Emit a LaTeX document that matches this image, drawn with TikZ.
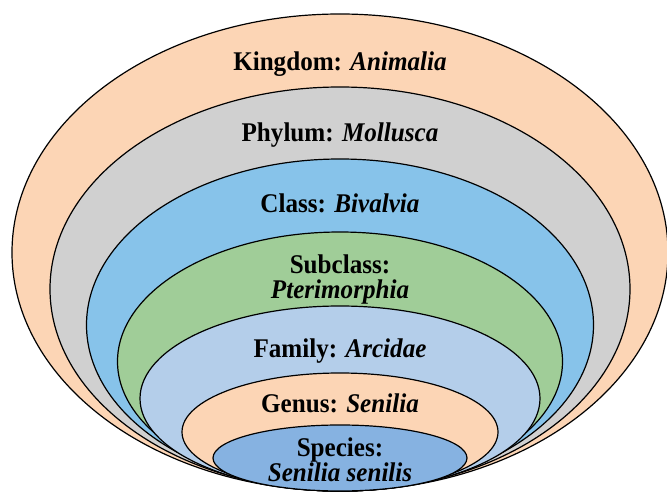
\documentclass[tikz,border=0pt]{standalone}
\usepackage{fontspec}
\setmainfont{Liberation Serif}
\usepackage{graphicx}
\usepackage{tikz}
\usepackage{xcolor}
\definecolor{TaxPeach}{HTML}{FCD5B5}
\definecolor{TaxGrey}{HTML}{D0D0D0}
\definecolor{TaxBlue}{HTML}{87C3EA}
\definecolor{TaxGreen}{HTML}{A0CD98}
\definecolor{TaxPale}{HTML}{B4CEEA}
\definecolor{TaxDeep}{HTML}{86B2E1}
\newcommand{\taxtext}[1]{\scalebox{0.93}[1]{#1}}

\begin{document}
\begin{tikzpicture}[
    x=1pt,y=-1pt,
    rank/.style={draw=black,line width=1.2pt},
    label/.style={font=\fontsize{27}{25}\selectfont\bfseries,align=center,inner sep=0pt}
  ]
    \useasboundingbox (0,0) rectangle (667,494);

    % nested ranks, all touching at the bottom
    \filldraw[rank,fill=TaxPeach] (340,252.5) ellipse [x radius=328pt,y radius=238.5pt];
    \filldraw[rank,fill=TaxGrey]  (340,289)   ellipse [x radius=290pt,y radius=202pt];
    \filldraw[rank,fill=TaxBlue]  (340,325)   ellipse [x radius=253.5pt,y radius=166pt];
    \filldraw[rank,fill=TaxGreen] (340,361.5) ellipse [x radius=222.5pt,y radius=129.5pt];
    \filldraw[rank,fill=TaxPale]  (340,398.5) ellipse [x radius=200pt,y radius=92.5pt];
    \filldraw[rank,fill=TaxPeach] (340,432)   ellipse [x radius=158pt,y radius=59pt];
    \filldraw[rank,fill=TaxDeep]  (340,458)   ellipse [x radius=127pt,y radius=33pt];

    \node[label,anchor=base] (kingdom) at (340,71) {\taxtext{Kingdom: \textit{Animalia}}};
    \node[label,anchor=base] (phylum) at (340,142) {\taxtext{Phylum: \textit{Mollusca}}};
    \node[label,anchor=base] (class) at (340,213) {\taxtext{Class: \textit{Bivalvia}}};
    \node[label] (subclass) at (340,280) {\taxtext{Subclass:}\\\taxtext{\textit{Pterimorphia}}};
    \node[label,anchor=base] (family) at (340,358) {\taxtext{Family: \textit{Arcidae}}};
    \node[label,anchor=base] (genus) at (340,412) {\taxtext{Genus: \textit{Senilia}}};
    \node[label] (species) at (340,460) {\taxtext{Species:}\\\taxtext{\textit{Senilia senilis}}};
  \end{tikzpicture}
\end{document}
